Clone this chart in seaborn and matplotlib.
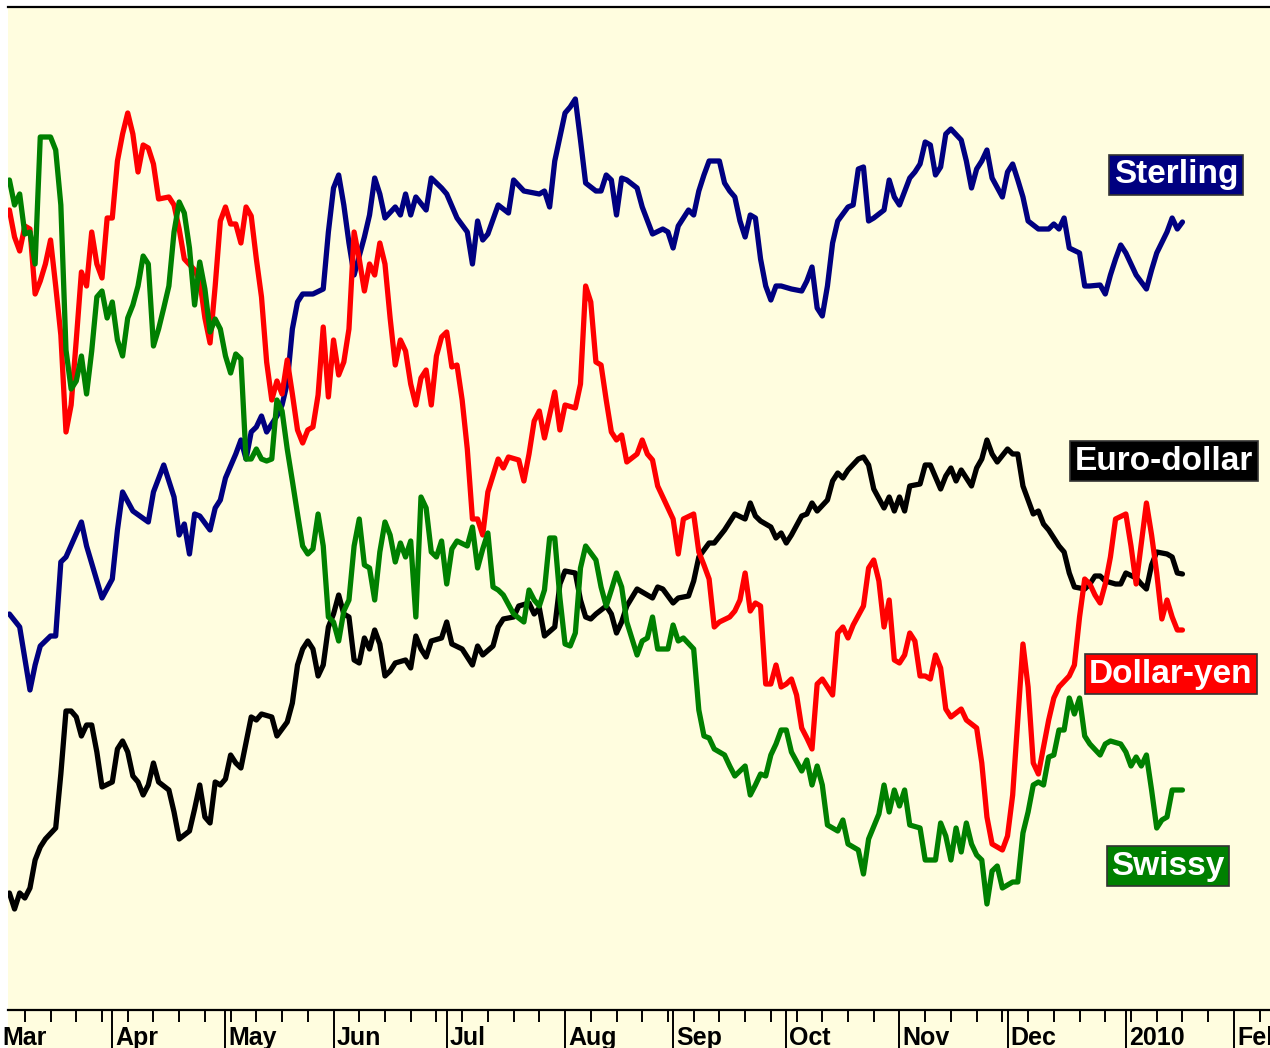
import numpy as np
import pandas as pd
import matplotlib
matplotlib.use("Agg")
import matplotlib.pyplot as plt
import matplotlib.transforms as mtransforms
from matplotlib.patches import Rectangle
import seaborn as sns

# x = trading-day number counted from Mon 2 Mar 2009, y = relative level (no scale shown)
START = "2009-03-02"
END = "2010-02-26"

sterling_day = [2, 4, 6, 7, 8, 10, 11, 12, 13, 16, 17, 20, 22, 23, 24, 26, 29, 30, 32, 34, 35, 36, 37, 38, 39,
                41, 42, 43, 44, 46, 47, 48, 49, 50, 51, 52, 54, 55, 56, 57, 58, 59, 61, 63, 64, 65, 66, 67, 68, 69,
                71, 72, 73, 74, 75, 77, 78, 79, 80, 81, 83, 84, 86, 87, 89, 91, 92, 93, 94, 95, 97, 99, 100, 102,
                105, 106, 107, 108, 110, 111, 112, 113, 114, 116, 117, 118, 119, 120, 121, 122, 124, 125, 127, 129,
                130, 131, 132, 134, 135, 136, 137, 138, 140, 141, 142, 143, 144, 145, 146, 147, 148, 149, 150, 151,
                152, 154, 156, 157, 158, 159, 160, 161, 162, 163, 165, 166, 167, 168, 169, 170, 172, 173, 174, 175,
                177, 178, 179, 180, 181, 182, 183, 184, 185, 187, 188, 189, 190, 191, 192, 193, 195, 196, 197, 198,
                199, 200, 202, 204, 205, 206, 207, 208, 210, 211, 212, 214, 215, 216, 217, 218, 219, 221, 223, 224,
                225, 227, 228, 229, 230]
sterling_val = [39.6, 38.3, 32.0, 34.5, 36.4, 37.4, 37.4, 44.8, 45.3, 48.8, 46.4, 41.2, 43.1, 48.0, 51.8, 49.9,
                48.8, 51.8, 54.5, 51.3, 47.5, 48.6, 45.6, 49.6, 49.4, 48.0, 50.2, 51.0, 53.2, 55.6, 57.0, 55.1,
                57.8, 58.3, 59.4, 57.8, 59.4, 60.5, 62.7, 68.1, 70.8, 71.6, 71.6, 72.1, 77.8, 82.2, 83.5, 80.5,
                76.7, 73.5, 77.3, 79.5, 83.2, 81.6, 79.2, 80.3, 79.5, 81.6, 79.5, 81.3, 80.0, 83.2, 82.2, 81.6,
                79.2, 77.8, 74.6, 78.9, 77.0, 77.6, 80.5, 79.7, 83.0, 81.9, 81.6, 81.9, 80.3, 84.9, 89.7, 90.3,
                91.1, 87.0, 82.7, 81.9, 81.9, 83.5, 83.0, 79.5, 83.2, 83.0, 82.2, 80.3, 77.6, 78.1, 77.8, 76.2,
                78.4, 80.0, 79.5, 81.9, 83.5, 84.9, 84.9, 82.7, 81.9, 81.3, 78.9, 77.3, 79.5, 79.2, 75.1, 72.4,
                71.0, 72.4, 72.4, 72.1, 71.9, 72.9, 74.3, 70.2, 69.4, 72.4, 76.7, 78.9, 80.3, 80.5, 84.1, 84.3,
                78.9, 79.2, 80.0, 83.0, 81.3, 80.5, 83.2, 83.8, 84.6, 86.8, 86.5, 83.5, 84.3, 87.6, 88.1, 87.0,
                84.9, 82.2, 84.1, 84.9, 86.0, 83.2, 81.3, 83.8, 84.6, 83.0, 81.3, 78.9, 78.1, 78.1, 78.6, 78.1,
                79.2, 76.2, 75.7, 72.4, 72.4, 72.5, 71.6, 73.5, 75.1, 76.5, 75.7, 73.5, 72.1, 74.0, 75.7, 77.8,
                79.2, 78.1, 78.8]

eurodollar_day = [2, 3, 4, 5, 6, 7, 8, 9, 11, 12, 13, 14, 15, 16, 17, 18, 19, 20, 22, 23, 24, 25, 26, 27, 28, 29,
                  30, 31, 33, 34, 35, 37, 38, 39, 40, 41, 42, 43, 44, 45, 46, 47, 49, 50, 51, 53, 54, 56, 57, 58,
                  59, 60, 61, 62, 63, 64, 65, 66, 67, 68, 69, 70, 71, 72, 73, 74, 75, 76, 77, 79, 80, 81, 82, 83,
                  84, 86, 87, 88, 90, 91, 92, 93, 94, 96, 97, 98, 100, 101, 103, 104, 105, 106, 108, 109, 110, 112,
                  113, 114, 115, 116, 118, 119, 120, 121, 122, 124, 125, 127, 128, 129, 131, 132, 134, 135, 136,
                  138, 139, 141, 142, 143, 145, 146, 147, 148, 150, 151, 152, 153, 154, 156, 157, 158, 159, 161,
                  162, 163, 164, 165, 167, 168, 169, 170, 172, 173, 174, 175, 176, 177, 179, 180, 181, 183, 184,
                  185, 186, 187, 189, 190, 191, 192, 193, 194, 196, 197, 198, 199, 200, 201, 202, 203, 204, 206,
                  207, 208, 209, 211, 212, 213, 214, 215, 217, 218, 219, 221, 222, 223, 224, 225, 227, 228, 229, 230]
eurodollar_val = [11.7, 10.1, 11.7, 11.2, 12.2, 15.0, 16.3, 17.1, 18.2, 23.6, 29.9, 29.9, 29.3, 27.4, 28.5, 28.5,
                  25.8, 22.3, 22.8, 26.1, 26.9, 25.8, 23.4, 22.8, 21.5, 22.5, 24.7, 22.8, 22.0, 19.8, 17.1, 17.9,
                  20.1, 22.5, 19.3, 18.7, 22.8, 22.5, 23.1, 25.5, 24.7, 24.2, 29.3, 29.0, 29.6, 29.3, 27.4, 28.8,
                  30.7, 34.5, 36.1, 36.9, 36.1, 33.4, 34.5, 38.3, 39.6, 41.5, 39.6, 39.3, 35.0, 34.7, 37.2, 36.1,
                  38.0, 36.6, 33.4, 33.9, 34.7, 35.0, 34.2, 37.4, 36.1, 35.3, 36.9, 37.2, 38.8, 36.6, 36.1, 35.3,
                  34.5, 36.4, 35.5, 36.4, 38.3, 39.1, 39.3, 40.4, 40.7, 39.6, 40.2, 37.4, 38.3, 42.6, 43.9, 43.7,
                  41.0, 39.3, 39.1, 39.6, 40.4, 39.6, 37.7, 38.8, 40.4, 42.1, 41.8, 41.2, 42.3, 42.1, 40.7, 41.2,
                  41.4, 42.9, 45.3, 46.7, 46.7, 48.0, 48.8, 49.6, 49.1, 50.7, 49.4, 48.9, 48.3, 47.2, 47.7, 46.7,
                  47.5, 49.4, 49.6, 50.7, 49.9, 51.0, 52.9, 53.7, 53.2, 54.0, 55.1, 55.3, 54.5, 52.1, 50.2, 51.3,
                  49.9, 51.3, 49.9, 52.4, 52.6, 54.5, 54.5, 52.1, 53.4, 54.2, 52.9, 54.0, 52.4, 54.2, 55.1, 57.0,
                  55.6, 54.8, 56.1, 55.6, 55.6, 52.4, 51.0, 49.6, 49.9, 48.6, 48.0, 46.4, 45.8, 43.7, 42.3, 42.1,
                  42.6, 43.4, 43.4, 42.9, 42.6, 42.6, 43.7, 43.2, 42.6, 42.1, 44.5, 45.8, 45.6, 45.3, 43.7, 43.6]

dollaryen_day = [2, 3, 4, 5, 6, 7, 8, 9, 10, 11, 12, 13, 14, 15, 16, 17, 18, 19, 20, 21, 22, 23, 24, 25, 26, 27,
                 28, 29, 30, 31, 33, 34, 35, 36, 38, 39, 40, 41, 42, 43, 44, 45, 46, 47, 48, 49, 50, 51, 52, 53,
                 54, 55, 56, 57, 58, 59, 60, 61, 62, 63, 64, 65, 66, 67, 68, 69, 70, 71, 72, 73, 74, 75, 76, 77,
                 78, 79, 80, 81, 82, 83, 84, 85, 86, 87, 88, 89, 90, 91, 92, 93, 94, 95, 97, 98, 99, 101, 102,
                 103, 104, 105, 106, 108, 109, 110, 112, 113, 114, 115, 116, 117, 118, 119, 120, 121, 122, 124,
                 125, 126, 127, 128, 129, 131, 132, 133, 135, 136, 137, 138, 139, 140, 142, 143, 144, 145, 146,
                 147, 148, 149, 150, 151, 152, 153, 154, 155, 156, 157, 158, 159, 160, 162, 163, 164, 165, 166,
                 168, 169, 170, 171, 172, 173, 174, 175, 176, 177, 178, 179, 180, 181, 182, 183, 184, 185, 187,
                 188, 190, 191, 192, 193, 195, 196, 197, 198, 199, 200, 201, 202, 204, 205, 206, 208, 209, 210,
                 211, 212, 213, 214, 215, 216, 217, 219, 220, 221, 223, 224, 225, 226, 227, 228, 229, 230]
dollaryen_val = [80.0, 77.3, 75.9, 78.4, 78.1, 71.6, 72.9, 74.6, 77.0, 72.4, 67.5, 57.8, 60.5, 67.0, 73.8, 72.4,
                 77.8, 74.6, 73.2, 79.2, 79.2, 84.9, 87.6, 89.7, 87.6, 83.8, 86.5, 86.2, 84.6, 81.1, 81.3, 80.5,
                 78.1, 75.1, 74.0, 72.9, 69.2, 66.7, 72.4, 78.9, 80.3, 78.6, 78.6, 76.7, 80.3, 79.4, 75.1, 71.3,
                 64.8, 61.0, 62.9, 61.6, 65.0, 61.6, 58.0, 56.7, 58.0, 58.3, 61.5, 68.3, 61.3, 67.0, 63.5, 64.8,
                 68.1, 77.8, 75.1, 71.9, 74.6, 73.5, 76.7, 74.6, 69.2, 64.5, 67.0, 65.9, 62.6, 60.5, 63.2, 64.0,
                 60.5, 65.4, 67.3, 67.8, 64.3, 64.5, 61.0, 56.1, 49.1, 49.1, 47.5, 51.8, 55.1, 54.2, 55.3, 55.0,
                 52.9, 55.6, 58.9, 59.9, 57.2, 61.8, 58.0, 60.5, 60.2, 62.6, 72.4, 70.8, 64.8, 64.5, 61.0, 57.8,
                 57.0, 57.5, 54.8, 55.6, 57.0, 55.6, 55.0, 52.4, 51.3, 49.1, 45.6, 49.1, 49.6, 45.8, 44.5, 43.1,
                 38.3, 38.8, 39.3, 39.9, 41.0, 43.7, 39.9, 40.7, 40.4, 32.6, 32.6, 34.5, 32.3, 32.6, 33.1, 31.5,
                 28.2, 27.2, 26.1, 32.6, 33.1, 31.5, 37.7, 38.3, 37.2, 38.5, 40.4, 44.2, 45.0, 42.9, 38.3, 41.0,
                 35.0, 34.7, 35.5, 37.7, 36.9, 33.4, 33.4, 33.1, 35.5, 34.2, 30.1, 29.3, 30.1, 29.0, 28.2, 24.7,
                 19.3, 16.6, 16.0, 17.4, 21.5, 29.0, 36.6, 32.3, 24.7, 23.6, 29.0, 31.2, 32.3, 33.4, 34.5, 39.3,
                 43.1, 42.6, 41.5, 40.7, 42.6, 45.3, 49.1, 49.6, 46.4, 42.6, 50.7, 47.5, 43.7, 39.1, 41.0, 39.3,
                 38.0, 38.0]

swissy_day = [2, 3, 4, 5, 6, 7, 8, 9, 10, 11, 12, 13, 14, 15, 16, 17, 18, 19, 20, 21, 22, 23, 24, 25, 26, 27, 28,
              29, 30, 31, 32, 33, 34, 35, 36, 37, 38, 39, 40, 41, 42, 43, 44, 45, 46, 47, 48, 49, 50, 51, 52, 53,
              54, 55, 56, 57, 58, 59, 60, 61, 62, 63, 64, 65, 66, 67, 68, 69, 70, 71, 72, 73, 74, 75, 76, 77, 78,
              79, 80, 81, 82, 83, 84, 85, 86, 87, 88, 89, 91, 92, 93, 94, 95, 96, 97, 98, 100, 102, 103, 104, 105,
              106, 107, 108, 109, 110, 111, 112, 113, 114, 116, 117, 118, 119, 120, 121, 122, 124, 125, 126, 127,
              128, 130, 131, 132, 133, 135, 136, 137, 138, 139, 141, 142, 143, 145, 146, 147, 148, 149, 150, 151,
              152, 153, 154, 156, 157, 158, 159, 160, 161, 163, 164, 165, 167, 168, 169, 171, 172, 173, 174, 175,
              176, 177, 179, 180, 182, 183, 184, 185, 186, 187, 188, 189, 190, 191, 192, 193, 194, 195, 197, 198,
              199, 200, 201, 202, 203, 204, 205, 206, 207, 208, 209, 210, 211, 212, 214, 215, 216, 218, 219, 220,
              221, 222, 223, 224, 225, 226, 227, 228, 230]
swissy_val = [83.0, 80.5, 81.6, 77.6, 77.8, 74.6, 87.3, 87.3, 87.3, 86.0, 80.5, 66.0, 62.1, 62.9, 65.4, 61.6, 65.9,
              71.3, 71.9, 69.2, 70.8, 67.0, 65.4, 69.2, 70.5, 72.4, 75.4, 74.6, 66.4, 68.1, 70.2, 72.4, 77.8, 80.8,
              79.7, 76.2, 70.5, 74.8, 72.1, 67.8, 69.1, 68.1, 65.4, 63.7, 65.6, 65.1, 55.1, 55.1, 56.1, 55.1, 54.9,
              55.1, 61.0, 59.9, 56.1, 52.9, 49.6, 46.4, 45.6, 46.1, 49.6, 46.4, 39.3, 38.8, 36.9, 39.9, 41.0, 46.4,
              49.1, 44.5, 44.2, 41.0, 45.8, 48.8, 47.5, 44.8, 46.7, 45.3, 46.9, 39.3, 51.3, 50.2, 45.8, 45.3, 46.9,
              42.6, 46.1, 46.9, 46.4, 48.3, 44.2, 46.1, 47.7, 42.3, 42.0, 41.5, 39.6, 38.8, 42.0, 41.0, 40.4, 42.0,
              47.2, 47.2, 41.2, 36.6, 36.4, 37.7, 44.2, 46.4, 45.0, 42.3, 40.4, 42.0, 43.7, 42.3, 38.8, 35.5, 36.9,
              37.2, 39.3, 36.1, 36.1, 38.5, 36.9, 37.2, 36.1, 30.0, 27.4, 27.2, 26.1, 25.5, 24.4, 23.4, 24.4, 21.5,
              22.5, 23.6, 23.4, 25.5, 26.6, 28.0, 28.0, 25.8, 23.9, 25.0, 22.5, 24.4, 22.5, 18.5, 17.9, 19.0, 16.6,
              16.0, 13.6, 17.1, 19.6, 22.5, 19.8, 22.0, 20.4, 22.0, 18.5, 18.2, 15.0, 15.0, 18.7, 17.4, 15.0, 18.2,
              15.8, 18.7, 16.6, 15.5, 15.0, 10.6, 13.9, 14.4, 12.2, 12.8, 12.8, 17.7, 19.8, 22.5, 22.8, 22.5, 25.3,
              25.5, 28.0, 28.0, 31.2, 29.6, 31.2, 27.4, 26.6, 25.5, 26.6, 26.9, 26.6, 25.8, 24.4, 25.3, 24.4, 25.5,
              22.0, 18.2, 19.0, 19.3, 22.0, 22.0]

series_names = ["Sterling", "Euro-dollar", "Dollar-yen", "Swissy"]
series_colors = ["#000080", "#000000", "#ff0000", "#008000"]

BG = "#fffddf"
W, H = 1270, 1048
AX_L, AX_R, AX_T, AX_B = 8, 1270, 7, 1010

frames = []
for name, days, vals in zip(series_names,
                            [sterling_day, eurodollar_day, dollaryen_day, swissy_day],
                            [sterling_val, eurodollar_val, dollaryen_val, swissy_val]):
    frames.append(pd.DataFrame({"day": days, "value": vals, "series": name}))
df = pd.concat(frames, ignore_index=True)

# trading-day calendar for the axis
bdays = pd.bdate_range(START, END)
idx = np.arange(len(bdays))
month_start = idx[np.r_[True, bdays.month[1:] != bdays.month[:-1]]]
month_lab = [str(bdays[i].year) if bdays[i].month == 1 else bdays[i].strftime("%b") for i in month_start]
mondays = idx[bdays.dayofweek == 0]

sns.set_theme(style="white")
plt.rcParams["font.family"] = ["Liberation Sans", "DejaVu Sans"]

fig = plt.figure(figsize=(W / 100, H / 100), dpi=100)
fig.patch.set_facecolor("white")
fig.patches.append(Rectangle((AX_L / W, 0), (W - AX_L) / W, (H - AX_T) / H,
                             transform=fig.transFigure, facecolor=BG, edgecolor="none", zorder=-5))
ax = fig.add_axes([AX_L / W, (H - AX_B) / H, (AX_R - AX_L) / W, (AX_B - AX_T) / H])
ax.set_facecolor(BG)

sns.lineplot(data=df, x="day", y="value", hue="series", hue_order=series_names,
             palette=dict(zip(series_names, series_colors)), estimator=None, sort=True,
             linewidth=3.8, legend=False, ax=ax)

ax.set_xlabel("")
ax.set_ylabel("")
ax.set_yticks([])

for side in ["left", "right"]:
    ax.spines[side].set_visible(False)
for side in ["top", "bottom"]:
    ax.spines[side].set_visible(True)
    ax.spines[side].set_color("black")
    ax.spines[side].set_linewidth(1.6)

ax.set_xticks(month_start)
ax.set_xticks(mondays, minor=True)
ax.tick_params(axis="x", which="major", direction="out", length=28, width=1.4, color="black",
               labelbottom=False, bottom=True)
ax.tick_params(axis="x", which="minor", direction="out", length=8.5, width=1.4, color="black", bottom=True)

# px -> day scale: 5.145 px per trading day, day 0 at x = -0.9 px (set after the ticks)
ax.set_xlim((AX_L + 0.9) / 5.145, (AX_R + 0.9) / 5.145)
ax.set_ylim(0, (AX_B - AX_T) / 10)

lab_trans = mtransforms.offset_copy(ax.get_xaxis_transform(), fig=fig, x=3, y=0, units="dots")
for pos, lab in zip(month_start, month_lab):
    ax.text(pos, -(1045 - AX_B) / (AX_B - AX_T), lab, transform=lab_trans, ha="left", va="baseline",
            fontsize=18, fontweight="bold", color="black", clip_on=False,
            family=["Liberation Sans Narrow", "Liberation Sans", "DejaVu Sans"])

# name boxes at the right-hand end of the lines
box_pos = {"Sterling": (1176, 175), "Euro-dollar": (1164, 461), "Dollar-yen": (1171, 674), "Swissy": (1168, 866)}
for name, color in zip(series_names, series_colors):
    px, py = box_pos[name]
    ax.text((px - AX_L) / (AX_R - AX_L), (AX_B - py) / (AX_B - AX_T), name, transform=ax.transAxes,
            ha="center", va="center", color="white", fontsize=24, fontweight="bold",
            bbox=dict(boxstyle="square,pad=0.14", facecolor=color, edgecolor="#333333", linewidth=1.2),
            zorder=5)

plt.savefig("out.png", dpi=100, facecolor=fig.get_facecolor())
plt.close()
